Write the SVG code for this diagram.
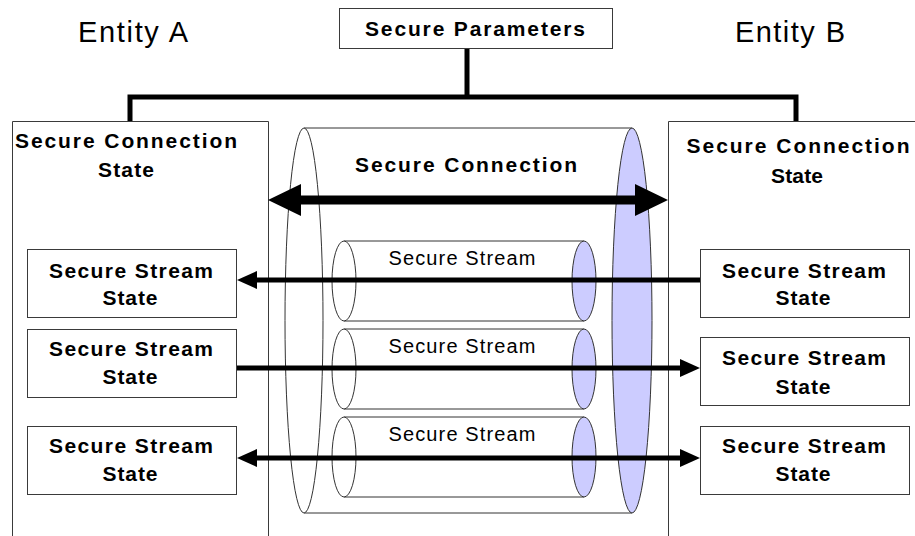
<svg xmlns="http://www.w3.org/2000/svg" width="915" height="536" viewBox="0 0 915 536">
  <defs>
    <style>
      .bg { fill: #ffffff; }
      .box { fill: #ffffff; stroke: #3a3a3a; stroke-width: 1; }
      .frame { fill: none; stroke: #3a3a3a; stroke-width: 1; }
      .bus { fill: none; stroke: #000000; stroke-width: 5; }
      .edge { fill: none; stroke: #333333; stroke-width: 1; }
      .endwhite { fill: #ffffff; stroke: #333333; stroke-width: 1; }
      .endblue { fill: #ccccff; stroke: #333333; stroke-width: 1; }
      .flow { fill: none; stroke: #000000; stroke-width: 5; }
      .flowbig { fill: none; stroke: #000000; stroke-width: 9; }
      .entity { font-family: "Liberation Sans", Arial, sans-serif; font-size: 29px; fill: #000000; }
      .bold { font-family: "Liberation Sans", Arial, sans-serif; font-size: 21px; font-weight: bold; fill: #000000; }
      .plain { font-family: "Liberation Sans", Arial, sans-serif; font-size: 20px; fill: #000000; }
    </style>
    <marker id="head" markerUnits="userSpaceOnUse" markerWidth="22" markerHeight="20" viewBox="0 -10 22 20" refX="0" refY="0" orient="auto-start-reverse">
      <path d="M0,-9 L20,0 L0,9 Z" fill="#000000"/>
    </marker>
    <marker id="headbig" markerUnits="userSpaceOnUse" markerWidth="35" markerHeight="34" viewBox="0 -17 35 34" refX="0" refY="0" orient="auto-start-reverse">
      <path d="M0,-16 L33,0 L0,16 Z" fill="#000000"/>
    </marker>
  </defs>

  <rect class="bg" x="0" y="0" width="915" height="536"/>

  <!-- entity titles -->
  <text class="entity" x="133" y="42" text-anchor="middle" textLength="110">Entity A</text>
  <text class="entity" x="790" y="42" text-anchor="middle" textLength="110">Entity B</text>

  <!-- shared parameters -->
  <g id="secure-parameters">
    <rect class="box" x="339.5" y="8.5" width="273" height="40"/>
    <text class="bold" x="475" y="36" text-anchor="middle" textLength="220">Secure Parameters</text>
  </g>

  <!-- connection state containers -->
  <g id="state-a">
    <path class="frame" d="M12.5,537 V121.5 H268.5 V537"/>
    <text class="bold" x="126" y="148" text-anchor="middle" textLength="222">Secure Connection</text>
    <text class="bold" x="126" y="177" text-anchor="middle" textLength="56">State</text>
  </g>
  <g id="state-b">
    <path class="frame" d="M668.5,537 V121.5 H916"/>
    <text class="bold" x="798" y="153" text-anchor="middle" textLength="223">Secure Connection</text>
    <text class="bold" x="797" y="183" text-anchor="middle" textLength="52">State</text>
  </g>

  <!-- connection tube -->
  <g id="secure-connection">
    <line class="edge" x1="304" y1="128" x2="632" y2="128"/>
    <line class="edge" x1="304" y1="513" x2="632" y2="513"/>
    <ellipse class="endwhite" cx="304" cy="320.5" rx="19" ry="192.5"/>
    <ellipse class="endblue" cx="632" cy="320.5" rx="20" ry="192.5"/>
    <text class="bold" x="466" y="172" text-anchor="middle" textLength="222">Secure Connection</text>
  </g>

  <!-- stream tubes -->
  <g id="stream-1">
    <line class="edge" x1="344" y1="241" x2="584" y2="241"/>
    <line class="edge" x1="344" y1="321" x2="584" y2="321"/>
    <ellipse class="endwhite" cx="344" cy="281" rx="12" ry="40"/>
    <ellipse class="endblue" cx="584" cy="281" rx="12" ry="40"/>
    <text class="plain" x="462" y="265" text-anchor="middle" textLength="147">Secure Stream</text>
  </g>
  <g id="stream-2">
    <line class="edge" x1="344" y1="329" x2="584" y2="329"/>
    <line class="edge" x1="344" y1="409" x2="584" y2="409"/>
    <ellipse class="endwhite" cx="344" cy="369" rx="12" ry="40"/>
    <ellipse class="endblue" cx="584" cy="369" rx="12" ry="40"/>
    <text class="plain" x="462" y="353" text-anchor="middle" textLength="147">Secure Stream</text>
  </g>
  <g id="stream-3">
    <line class="edge" x1="344" y1="417" x2="584" y2="417"/>
    <line class="edge" x1="344" y1="497" x2="584" y2="497"/>
    <ellipse class="endwhite" cx="344" cy="457" rx="12" ry="40"/>
    <ellipse class="endblue" cx="584" cy="457" rx="12" ry="40"/>
    <text class="plain" x="462" y="441" text-anchor="middle" textLength="147">Secure Stream</text>
  </g>

  <!-- stream state boxes, entity A -->
  <g id="a-stream-1">
    <rect class="box" x="27.5" y="249.5" width="209" height="68"/>
    <text class="bold" x="131" y="278" text-anchor="middle" textLength="164">Secure Stream</text>
    <text class="bold" x="130" y="305" text-anchor="middle" textLength="55">State</text>
  </g>
  <g id="a-stream-2">
    <rect class="box" x="27.5" y="329.5" width="209" height="68"/>
    <text class="bold" x="131" y="356" text-anchor="middle" textLength="164">Secure Stream</text>
    <text class="bold" x="130" y="384" text-anchor="middle" textLength="55">State</text>
  </g>
  <g id="a-stream-3">
    <rect class="box" x="27.5" y="426.5" width="209" height="68"/>
    <text class="bold" x="131" y="453" text-anchor="middle" textLength="164">Secure Stream</text>
    <text class="bold" x="130" y="481" text-anchor="middle" textLength="55">State</text>
  </g>

  <!-- stream state boxes, entity B -->
  <g id="b-stream-1">
    <rect class="box" x="700.5" y="249.5" width="209" height="68"/>
    <text class="bold" x="804" y="278" text-anchor="middle" textLength="164">Secure Stream</text>
    <text class="bold" x="803" y="305" text-anchor="middle" textLength="55">State</text>
  </g>
  <g id="b-stream-2">
    <rect class="box" x="700.5" y="337.5" width="209" height="68"/>
    <text class="bold" x="804" y="365" text-anchor="middle" textLength="164">Secure Stream</text>
    <text class="bold" x="803" y="394" text-anchor="middle" textLength="55">State</text>
  </g>
  <g id="b-stream-3">
    <rect class="box" x="700.5" y="426.5" width="209" height="68"/>
    <text class="bold" x="804" y="453" text-anchor="middle" textLength="164">Secure Stream</text>
    <text class="bold" x="803" y="481" text-anchor="middle" textLength="55">State</text>
  </g>

  <!-- connectors -->
  <g id="connectors">
    <path class="bus" d="M467,49 V97 M130,121 V97 H796 V121"/>
    <line class="flowbig" x1="301" y1="200" x2="635" y2="200" marker-start="url(#headbig)" marker-end="url(#headbig)"/>
    <line class="flow" x1="700" y1="280" x2="257" y2="280" marker-end="url(#head)"/>
    <line class="flow" x1="237" y1="368" x2="680" y2="368" marker-end="url(#head)"/>
    <line class="flow" x1="257" y1="458" x2="680" y2="458" marker-start="url(#head)" marker-end="url(#head)"/>
  </g>
</svg>
